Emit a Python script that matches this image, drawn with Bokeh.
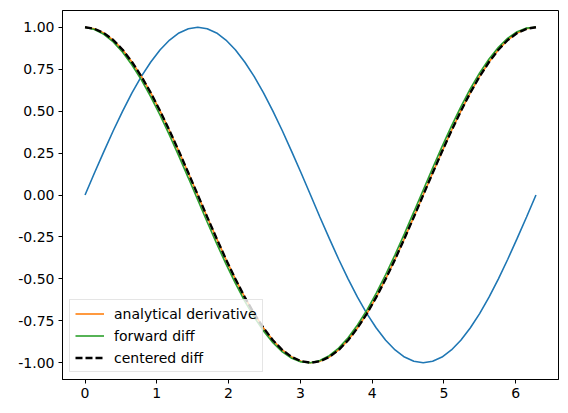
from bokeh.plotting import figure
from bokeh.models import Legend, LegendItem, FixedTicker, Range1d, NumeralTickFormatter
from bokeh.embed import file_html
from bokeh.resources import INLINE

x = [0.000, 0.131, 0.262, 0.393, 0.524, 0.654, 0.785, 0.916, 1.047, 1.178, 1.309, 1.440,
     1.571, 1.702, 1.833, 1.963, 2.094, 2.225, 2.356, 2.487, 2.618, 2.749, 2.880, 3.011,
     3.142, 3.272, 3.403, 3.534, 3.665, 3.796, 3.927, 4.058, 4.189, 4.320, 4.451, 4.581,
     4.712, 4.843, 4.974, 5.105, 5.236, 5.367, 5.498, 5.629, 5.760, 5.890, 6.021, 6.152, 6.283]
sin_vals = [0.000, 0.131, 0.259, 0.383, 0.500, 0.609, 0.707, 0.793, 0.866, 0.924, 0.966, 0.991,
            1.000, 0.991, 0.966, 0.924, 0.866, 0.793, 0.707, 0.609, 0.500, 0.383, 0.259, 0.131,
            0.000, -0.131, -0.259, -0.383, -0.500, -0.609, -0.707, -0.793, -0.866, -0.924, -0.966, -0.991,
            -1.000, -0.991, -0.966, -0.924, -0.866, -0.793, -0.707, -0.609, -0.500, -0.383, -0.259, -0.131, 0.000]
analytical = [1.000, 0.991, 0.966, 0.924, 0.866, 0.793, 0.707, 0.609, 0.500, 0.383, 0.259, 0.131,
              0.000, -0.131, -0.259, -0.383, -0.500, -0.609, -0.707, -0.793, -0.866, -0.924, -0.966, -0.991,
              -1.000, -0.991, -0.966, -0.924, -0.866, -0.793, -0.707, -0.609, -0.500, -0.383, -0.259, -0.131,
              0.000, 0.131, 0.259, 0.383, 0.500, 0.609, 0.707, 0.793, 0.866, 0.924, 0.966, 0.991, 1.000]
forward = [1.000, 0.987, 0.958, 0.913, 0.851, 0.775, 0.686, 0.585, 0.474, 0.355, 0.230, 0.101,
           -0.030, -0.161, -0.288, -0.411, -0.526, -0.633, -0.728, -0.811, -0.881, -0.935, -0.974, -0.995,
           -1.000, -0.987, -0.958, -0.913, -0.851, -0.775, -0.686, -0.585, -0.474, -0.355, -0.230, -0.101,
           0.030, 0.161, 0.288, 0.411, 0.526, 0.633, 0.728, 0.811, 0.881, 0.935, 0.974, 0.995, 1.000]
centered = [1.000, 0.991, 0.966, 0.924, 0.866, 0.793, 0.707, 0.609, 0.500, 0.383, 0.259, 0.131,
            0.000, -0.131, -0.259, -0.383, -0.500, -0.609, -0.707, -0.793, -0.866, -0.924, -0.966, -0.991,
            -1.000, -0.991, -0.966, -0.924, -0.866, -0.793, -0.707, -0.609, -0.500, -0.383, -0.259, -0.131,
            0.000, 0.131, 0.259, 0.383, 0.500, 0.609, 0.707, 0.793, 0.866, 0.924, 0.966, 0.991, 1.000]
x_ticks = [0, 1, 2, 3, 4, 5, 6]
y_ticks = [-1.0, -0.75, -0.5, -0.25, 0.0, 0.25, 0.5, 0.75, 1.0]
labels = ["analytical derivative", "forward diff", "centered diff"]

p = figure(frame_width=496, frame_height=369, output_backend="svg", toolbar_location=None,
           x_range=Range1d(-0.314, 6.597), y_range=Range1d(-1.1, 1.1),
           min_border_left=62, min_border_top=10, min_border_right=8, min_border_bottom=30)
p.xgrid.visible = False
p.ygrid.visible = False
p.outline_line_color = "black"
p.outline_line_width = 1
p.outline_line_alpha = 1

for ax in (p.xaxis[0], p.yaxis[0]):
    ax.major_tick_out = 4
    ax.major_tick_in = 0
    ax.minor_tick_out = 0
    ax.minor_tick_in = 0
    ax.major_tick_line_color = "black"
    ax.axis_line_color = "black"
    ax.major_label_text_font = "DejaVu Sans"
    ax.major_label_text_font_size = "14px"
    ax.major_label_text_color = "black"
p.xaxis[0].ticker = FixedTicker(ticks=x_ticks)
p.yaxis[0].ticker = FixedTicker(ticks=y_ticks)
p.yaxis[0].formatter = NumeralTickFormatter(format="0.00")
p.xaxis[0].major_label_standoff = 4
p.yaxis[0].major_label_standoff = 4

p.line(x, sin_vals, line_color="#1f77b4", line_width=1.6)
r1 = p.line(x, analytical, line_color="#ff7f0e", line_width=1.6)
r2 = p.line(x, forward, line_color="#2ca02c", line_width=1.6)
r3 = p.line(x, centered, line_color="black", line_width=2.4, line_dash="7 3")

legend = Legend(items=[LegendItem(label=labels[0], renderers=[r1]),
                       LegendItem(label=labels[1], renderers=[r2]),
                       LegendItem(label=labels[2], renderers=[r3])],
                location="bottom_left")
legend.label_text_font = "DejaVu Sans"
legend.label_text_font_size = "14px"
legend.label_text_color = "black"
legend.glyph_width = 29
legend.glyph_height = 17
legend.label_height = 17
legend.label_standoff = 10
legend.spacing = 5
legend.padding = 5
legend.margin = 7
legend.border_line_color = "#cccccc"
legend.border_line_width = 1
legend.background_fill_color = "white"
legend.background_fill_alpha = 0.8
p.add_layout(legend)

open("out.html", "w").write(file_html(p, INLINE))
